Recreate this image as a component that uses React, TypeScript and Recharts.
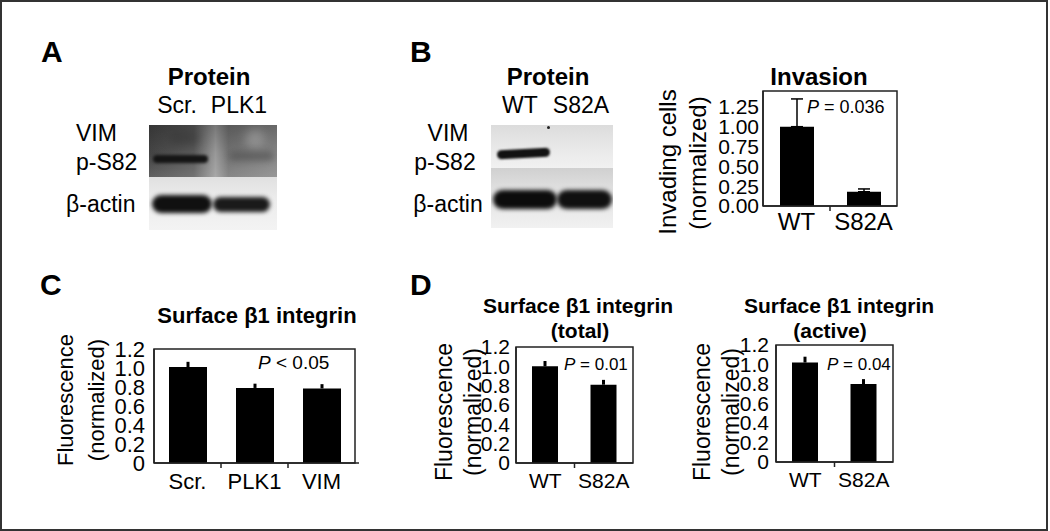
import React from 'react';
import { BarChart, Bar, XAxis, YAxis, ErrorBar, ReferenceArea } from 'recharts';

const FONT = '"Liberation Sans", Arial, Helvetica, sans-serif';

// panel B, invasion assay
const invCats = ['WT', 'S82A'];
const invValues = [1.0, 0.18];
const invErr = [0.35, 0.035];
const invTicks = [0, 0.25, 0.5, 0.75, 1.0, 1.25];

// panel C, surface b1 integrin after knockdown
const cCats = ['Scr.', 'PLK1', 'VIM'];
const cValues = [1.01, 0.79, 0.785];
const cErr = [0.055, 0.045, 0.045];

// panel D, total and active surface b1 integrin
const dCats = ['WT', 'S82A'];
const dTotalValues = [1.0, 0.81];
const dTotalErr = [0.055, 0.05];
const dActiveValues = [1.02, 0.8];
const dActiveErr = [0.06, 0.05];

const fluoTicks = [0, 0.2, 0.4, 0.6, 0.8, 1.0, 1.2];

const MT = 14;
const MR = 6;
const MB = 2;
const YW = 60;
const XH = 40;
const AXIS = { stroke: '#222', strokeWidth: 1.5 };

type MiniProps = {
  plotLeft: number;
  plotTop: number;
  plotW: number;
  plotH: number;
  cats: string[];
  values: number[];
  errs: number[];
  max: number;
  ticks: number[];
  digits: number;
  barSize: number;
  cap: number;
  errW: number;
  yFont: number;
  xFont: number;
  yGap: number;
  xGap: number;
  padRight?: number;
};

function MiniBar(p: MiniProps) {
  const rows = p.cats.map((name, i) => ({ name, value: p.values[i], err: [0, p.errs[i]] }));
  const n = p.cats.length;
  const pad = p.padRight || 0;
  const fmt = (v: number) => (v === 0 && p.digits === 1 ? '0' : v.toFixed(p.digits));

  // category label plus a short tick on the boundary between categories
  const xTick = (t: any) => {
    const { x, y, payload, index } = t;
    const half = payload && payload.offset ? payload.offset : (p.plotW - pad) / n / 2;
    const axisY = y - p.xGap;
    return (
      <g>
        <text x={x} y={y} dy="0.71em" textAnchor="middle" fill="#000" fontSize={p.xFont} fontFamily={FONT}>
          {payload.value}
        </text>
        {index < n - 1 && (
          <line x1={x + half} x2={x + half} y1={axisY} y2={axisY + 5} stroke="#222" strokeWidth={1.5} />
        )}
      </g>
    );
  };

  return (
    <div style={{ position: 'absolute', left: p.plotLeft - YW, top: p.plotTop - MT }}>
      <BarChart
        width={YW + p.plotW + MR}
        height={MT + p.plotH + XH + MB}
        data={rows}
        margin={{ top: MT, right: MR, bottom: MB, left: 0 }}
      >
        <XAxis
          dataKey="name"
          height={XH}
          tickLine={false}
          tickSize={0}
          tickMargin={p.xGap}
          axisLine={AXIS}
          interval={0}
          padding={{ left: 0, right: pad }}
          tick={xTick}
        />
        <YAxis
          width={YW}
          domain={[0, p.max]}
          ticks={p.ticks}
          interval={0}
          tickFormatter={fmt}
          tickLine={false}
          tickSize={p.yGap}
          tickMargin={0}
          axisLine={AXIS}
          tick={{ fill: '#000', fontSize: p.yFont, fontFamily: FONT }}
        />
        <ReferenceArea y1={0} y2={p.max} fill="none" stroke="#222" strokeWidth={1.5} />
        <Bar dataKey="value" fill="#000" barSize={p.barSize} isAnimationActive={false}>
          <ErrorBar dataKey="err" width={p.cap} strokeWidth={p.errW} stroke="#000" direction="y" />
        </Bar>
      </BarChart>
    </div>
  );
}

type TProps = {
  x: number;
  y: number;
  size: number;
  bold?: boolean;
  anchor?: 'start' | 'middle' | 'end';
  children: React.ReactNode;
};

// y is the baseline
function T({ x, y, size, bold, anchor = 'start', children }: TProps) {
  const shift = anchor === 'middle' ? 'translateX(-50%)' : anchor === 'end' ? 'translateX(-100%)' : 'none';
  return (
    <div
      style={{
        position: 'absolute',
        left: x,
        top: y - 0.8465 * size,
        fontSize: size,
        lineHeight: 1,
        fontWeight: bold ? 700 : 400,
        whiteSpace: 'nowrap',
        transform: shift,
      }}
    >
      {children}
    </div>
  );
}

function VLabel({ cx, cy, size, children }: { cx: number; cy: number; size: number; children: React.ReactNode }) {
  return (
    <div
      style={{
        position: 'absolute',
        left: cx,
        top: cy,
        fontSize: size,
        lineHeight: 1,
        whiteSpace: 'nowrap',
        transform: 'translate(-50%, -50%) rotate(-90deg)',
      }}
    >
      {children}
    </div>
  );
}

function Blot({ x, y, w, h, bg, children }: { x: number; y: number; w: number; h: number; bg: string; children?: React.ReactNode }) {
  return (
    <div style={{ position: 'absolute', left: x, top: y, width: w, height: h, background: bg, overflow: 'hidden' }}>
      {children}
    </div>
  );
}

function Band({ x, y, w, h, color, blur = 1.5, rot = 0, op = 1 }: { x: number; y: number; w: number; h: number; color: string; blur?: number; rot?: number; op?: number }) {
  return (
    <div
      style={{
        position: 'absolute',
        left: x,
        top: y,
        width: w,
        height: h,
        background: color,
        borderRadius: h / 2,
        filter: `blur(${blur}px)`,
        transform: `rotate(${rot}deg)`,
        opacity: op,
      }}
    />
  );
}

export default function App() {
  return (
    <div
      style={{
        position: 'absolute',
        left: 0,
        top: 0,
        width: 1050,
        height: 531,
        background: '#fff',
        fontFamily: FONT,
        color: '#000',
        overflow: 'hidden',
      }}
    >
      <div style={{ position: 'absolute', left: 0, top: 0, width: 1048, height: 531, border: '2px solid #333', boxSizing: 'border-box' }} />

      {/* A: western blot */}
      <T x={41} y={62} size={30} bold>A</T>
      <T x={209} y={85} size={24} bold anchor="middle">Protein</T>
      <T x={177} y={113} size={23} anchor="middle">Scr.</T>
      <T x={239} y={113} size={23} anchor="middle">PLK1</T>
      <T x={76} y={141} size={23}>VIM</T>
      <T x={76} y={170} size={23}>p-S82</T>
      <T x={66} y={212} size={23}>β-actin</T>
      <Blot x={149} y={125} w={128} h={52} bg="linear-gradient(90deg, #444 0%, #5a5a5a 35%, #999 52%, #727272 62%, #858585 100%)">
        <div style={{ position: 'absolute', inset: 0, background: 'linear-gradient(180deg, rgba(0,0,0,0.22) 0%, rgba(0,0,0,0) 55%, rgba(255,255,255,0.15) 100%)' }} />
        <Band x={20} y={6} w={30} h={14} color="#333" blur={5} op={0.5} />
        <Band x={96} y={4} w={20} h={20} color="#bbb" blur={5} op={0.4} />
        <Band x={4} y={30} w={55} h={8} color="#151515" blur={1.5} />
        <Band x={80} y={26} w={45} h={10} color="#505050" blur={3} op={0.6} />
      </Blot>
      <Blot x={149} y={177} w={128} h={53} bg="linear-gradient(180deg, #e0e0e0 0%, #ececec 40%, #f3f3f3 100%)">
        <Band x={3} y={18} w={60} h={18} color="#101010" blur={2} />
        <Band x={64} y={20} w={57} h={15} color="#1a1a1a" blur={2} />
      </Blot>

      {/* B: western blot + invasion */}
      <T x={410} y={62} size={30} bold>B</T>
      <T x={548} y={85} size={24} bold anchor="middle">Protein</T>
      <T x={520} y={113} size={23} anchor="middle">WT</T>
      <T x={581} y={113} size={23} anchor="middle">S82A</T>
      <T x={448} y={141} size={23} anchor="middle">VIM</T>
      <T x={445} y={170} size={23} anchor="middle">p-S82</T>
      <T x={448} y={212} size={23} anchor="middle">β-actin</T>
      <Blot x={491} y={125} w={122} h={43} bg="linear-gradient(180deg, #dcdcdc 0%, #eaeaea 60%, #f1f1f1 100%)">
        <Band x={6} y={24} w={53} h={9} color="#121212" blur={1.3} rot={-3} />
        <Band x={56} y={1} w={3} h={3} color="#222" blur={0.5} />
      </Blot>
      <Blot x={491} y={168} w={122} h={60} bg="linear-gradient(180deg, #d0d0d0 0%, #e2e2e2 40%, #f1f1f1 100%)">
        <Band x={2} y={22} w={64} h={19} color="#0c0c0c" blur={2} />
        <Band x={66} y={22} w={55} h={19} color="#101010" blur={2} />
      </Blot>

      <T x={819} y={85} size={24} bold anchor="middle">Invasion</T>
      <VLabel cx={668} cy={162} size={24}>Invading cells</VLabel>
      <VLabel cx={698} cy={163} size={24}>(normalized)</VLabel>
      <MiniBar
        plotLeft={763}
        plotTop={91}
        plotW={134}
        plotH={115}
        cats={invCats}
        values={invValues}
        errs={invErr}
        max={1.45}
        ticks={invTicks}
        digits={2}
        barSize={34}
        cap={6}
        errW={1.5}
        yFont={21}
        xFont={24}
        yGap={4}
        xGap={7}
      />
      <T x={807} y={113} size={18}><i>P</i> = 0.036</T>

      {/* C */}
      <T x={40} y={295} size={30} bold>C</T>
      <T x={257} y={324} size={22} bold anchor="middle">Surface β1 integrin</T>
      <VLabel cx={66} cy={400} size={22}>Fluorescence</VLabel>
      <VLabel cx={97} cy={400} size={22}>(normalized)</VLabel>
      <MiniBar
        plotLeft={154}
        plotTop={349}
        plotW={205}
        plotH={114}
        cats={cCats}
        values={cValues}
        errs={cErr}
        max={1.2}
        ticks={fluoTicks}
        digits={1}
        barSize={38}
        cap={0}
        errW={3}
        yFont={22}
        xFont={22}
        yGap={9}
        xGap={10}
        padRight={4}
      />
      <T x={258} y={369} size={19}><i>P</i> &lt; 0.05</T>

      {/* D */}
      <T x={410} y={295} size={30} bold>D</T>
      <T x={578} y={313} size={21} bold anchor="middle">Surface β1 integrin</T>
      <T x={580} y={338} size={21} bold anchor="middle">(total)</T>
      <VLabel cx={444} cy={412} size={23}>Fluorescence</VLabel>
      <VLabel cx={473} cy={412} size={23}>(normalized)</VLabel>
      <MiniBar
        plotLeft={516}
        plotTop={347}
        plotW={117}
        plotH={116}
        cats={dCats}
        values={dTotalValues}
        errs={dTotalErr}
        max={1.2}
        ticks={fluoTicks}
        digits={1}
        barSize={26}
        cap={0}
        errW={3}
        yFont={21}
        xFont={21}
        yGap={6}
        xGap={10}
      />
      <T x={564} y={370} size={17}><i>P</i> = 0.01</T>

      <T x={839} y={313} size={21} bold anchor="middle">Surface β1 integrin</T>
      <T x={830} y={338} size={21} bold anchor="middle">(active)</T>
      <VLabel cx={702} cy={412} size={23}>Fluorescence</VLabel>
      <VLabel cx={731} cy={412} size={23}>(normalized)</VLabel>
      <MiniBar
        plotLeft={776}
        plotTop={345}
        plotW={117}
        plotH={117}
        cats={dCats}
        values={dActiveValues}
        errs={dActiveErr}
        max={1.2}
        ticks={fluoTicks}
        digits={1}
        barSize={26}
        cap={0}
        errW={3}
        yFont={21}
        xFont={21}
        yGap={7}
        xGap={10}
      />
      <T x={827} y={370} size={17}><i>P</i> = 0.04</T>
    </div>
  );
}
